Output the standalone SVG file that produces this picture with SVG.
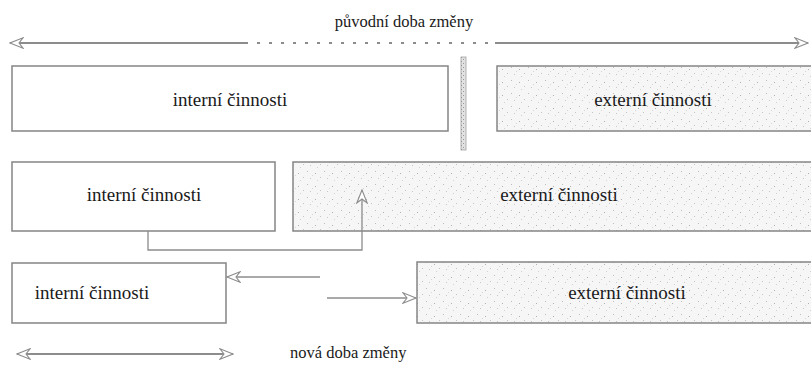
<svg xmlns="http://www.w3.org/2000/svg" width="811" height="374" viewBox="0 0 811 374">
  <style>
    .box { fill: #ffffff; stroke: #858585; stroke-width: 1.5; }
    .ext { fill: url(#stipple); stroke: #858585; stroke-width: 1.5; }
    .lbl { font-family: "Liberation Serif", "Times New Roman", serif; font-size: 19px; fill: #1a1a1a; text-anchor: middle; }
    .cap { font-family: "Liberation Serif", "Times New Roman", serif; font-size: 16.5px; fill: #1a1a1a; }
    .span { fill: none; stroke: #8c8c8c; stroke-width: 2; }
    .link { fill: none; stroke: #8c8c8c; stroke-width: 1.3; }
  </style>
  <defs>
    <!-- light grey stipple for the external-activity blocks -->
    <pattern id="stipple" width="17" height="13" patternUnits="userSpaceOnUse">
      <rect width="17" height="13" fill="#f6f6f6"/>
      <rect x="1" y="2" width="1" height="1" fill="#bdbdbd"/>
      <rect x="9" y="4" width="1" height="1" fill="#b0b0b0"/>
      <rect x="14" y="8" width="1" height="1" fill="#c4c4c4"/>
      <rect x="4" y="9" width="1" height="1" fill="#c8c8c8"/>
      <rect x="11" y="11" width="1" height="1" fill="#d2d2d2"/>
      <rect x="6" y="6" width="1" height="1" fill="#d6d6d6"/>
    </pattern>
    <pattern id="bar" width="5" height="4" patternUnits="userSpaceOnUse">
      <rect width="5" height="4" fill="#e2e2e2"/>
      <rect x="1" y="1" width="1" height="1" fill="#8f8f8f"/>
      <rect x="3" y="3" width="1" height="1" fill="#9a9a9a"/>
    </pattern>
    <!-- hollow, notched arrowhead -->
    <marker id="head" markerUnits="userSpaceOnUse" markerWidth="15" markerHeight="12" viewBox="0 0 15 12" refX="14" refY="6" orient="auto-start-reverse">
      <path d="M14,6 L1,0.8 L5,6 L1,11.2 Z" fill="#ffffff" stroke="#8c8c8c" stroke-width="1.1"/>
    </marker>
  </defs>

  <!-- original changeover time -->
  <g id="original-time">
    <text class="cap" x="404" y="27" text-anchor="middle">původní doba změny</text>
    <path class="span" d="M245,43 H10" marker-end="url(#head)"/>
    <path class="span" d="M245,43 H495" stroke-dasharray="3 9" stroke-width="1.2"/>
    <path class="span" d="M495,43 H808" marker-end="url(#head)"/>
  </g>

  <!-- row 1: activities before conversion -->
  <g id="internal-1">
    <rect class="box" x="12" y="66" width="436" height="65"/>
    <text class="lbl" x="230" y="106">interní činnosti</text>
  </g>
  <g id="divider">
    <rect x="461" y="57" width="5" height="93" fill="url(#bar)" stroke="#a0a0a0" stroke-width="0.8"/>
  </g>
  <g id="external-1">
    <rect class="ext" x="497" y="66" width="318" height="65"/>
    <text class="lbl" x="653" y="106">externí činnosti</text>
  </g>

  <!-- row 2: conversion of internal to external -->
  <g id="internal-2">
    <rect class="box" x="12" y="162" width="263" height="69"/>
    <text class="lbl" x="144" y="201">interní činnosti</text>
  </g>
  <g id="external-2">
    <rect class="ext" x="293" y="162" width="522" height="69"/>
    <text class="lbl" x="559" y="201">externí činnosti</text>
  </g>

  <!-- row 3: streamlined result -->
  <g id="internal-3">
    <rect class="box" x="12" y="263" width="214" height="60"/>
    <text class="lbl" x="92" y="299">interní činnosti</text>
  </g>
  <g id="external-3">
    <rect class="ext" x="417" y="262" width="398" height="61"/>
    <text class="lbl" x="627" y="299">externí činnosti</text>
  </g>

  <!-- connectors -->
  <g id="connectors">
    <path class="link" d="M148,231 V250 H362 V190" marker-end="url(#head)"/>
    <path class="link" d="M320,277 H227" marker-end="url(#head)"/>
    <path class="link" d="M327,298 H416" marker-end="url(#head)"/>
  </g>

  <!-- new changeover time -->
  <g id="new-time">
    <path class="span" d="M17,354 H233" marker-start="url(#head)" marker-end="url(#head)"/>
    <text class="cap" x="290" y="358">nová doba změny</text>
  </g>
</svg>
